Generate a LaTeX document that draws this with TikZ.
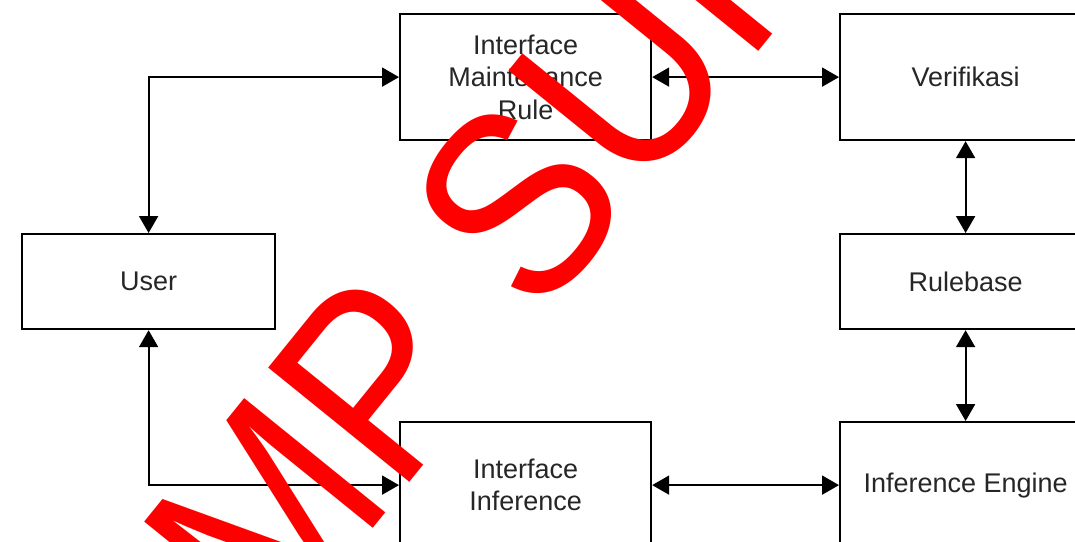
\documentclass[tikz,border=0pt]{standalone}
\usepackage{fontspec}
\setmainfont{Liberation Sans}
\newfontfamily\stampfont[FakeStretch=0.9]{Liberation Sans}
\usetikzlibrary{arrows.meta}
\begin{document}
\begin{tikzpicture}[x=1pt,y=-1pt,
  blok/.style={draw=black, fill=white, line width=2.2pt, minimum width=251pt,
    minimum height=126pt, inner sep=0pt, align=center, anchor=north west,
    font=\fontsize{27}{32.5}\selectfont, text=black!85},
  lowblok/.style={blok, minimum height=95pt},
  userblok/.style={blok, minimum height=95pt, minimum width=253pt},
  conn/.style={draw=black, line width=2pt,
    {Triangle[length=17pt,width=19pt]}-{Triangle[length=17pt,width=19pt]}},
  stamp/.style={rotate=51, anchor=base west, inner sep=0pt, outer sep=0pt,
    text={rgb,255:red,255;green,0;blue,0}, font=\stampfont\fontsize{264}{264}\selectfont}
]
\useasboundingbox (0,0) rectangle (1075,541);
\clip (0,0) rectangle (1075,541);
\fill[white] (0,0) rectangle (1075,541);

% blocks
\node[blok] (imr) at (399,13) {Interface\\Maintenance\\Rule};
\node[blok] (ver) at (839,13) {Verifikasi};
\node[userblok] (user) at (21,233) {User};
\node[lowblok] (rb) at (839,233) {Rulebase};
\node[blok] (ii) at (399,421) {Interface\\Inference};
\node[blok] (ie) at (839,421) {Inference Engine};

% connectors
\draw[conn] (user.north) |- (imr.west);
\draw[conn] (user.south) |- (ii.west);
\draw[conn] (imr.east) -- (ver.west);
\draw[conn] (ii.east) -- (ie.west);
\draw[conn] (ver.south) -- (rb.north);
\draw[conn] (rb.south) -- (ie.north);

% red stamp across the sheet
\node[stamp] (wm) at (273,651) {MP SUR};
\end{tikzpicture}
\end{document}
